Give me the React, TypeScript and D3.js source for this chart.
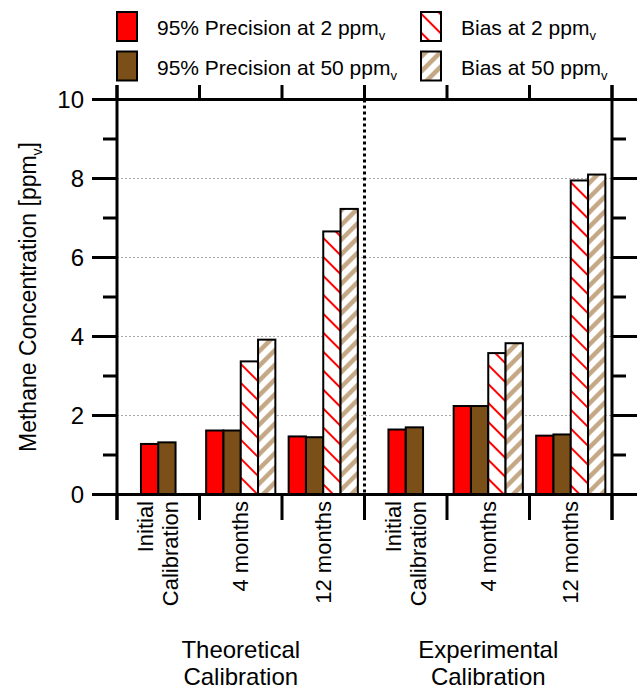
import React from "react";
import * as d3 from "d3";

const categories: string[][] = [
  ["Initial", "Calibration"],
  ["4 months"],
  ["12 months"],
  ["Initial", "Calibration"],
  ["4 months"],
  ["12 months"],
];
const precision2: (number | null)[] = [1.28, 1.62, 1.47, 1.645, 2.24, 1.49];
const precision50: (number | null)[] = [1.32, 1.62, 1.45, 1.7, 2.24, 1.52];
const bias2: (number | null)[] = [null, 3.37, 6.66, null, 3.58, 7.95];
const bias50: (number | null)[] = [null, 3.92, 7.23, null, 3.83, 8.1];
const groups = [
  { label: ["Theoretical", "Calibration"], center: 1 },
  { label: ["Experimental", "Calibration"], center: 4 },
];
const yMajor = [0, 2, 4, 6, 8, 10];
const yMinor = [1, 3, 5, 7, 9];
const gridVals = [2, 4, 6, 8];

const seriesNames = ["p2", "p50", "b2", "b50"];
const seriesData = [precision2, precision50, bias2, bias50];
const seriesFill = ["#ff0000", "#7b5018", "url(#hatchRed)", "url(#hatchTan)"];
const legendItems = [
  { text: "95% Precision at 2 ppm", fill: "#ff0000", col: 0, row: 0 },
  { text: "95% Precision at 50 ppm", fill: "#7b5018", col: 0, row: 1 },
  { text: "Bias at 2 ppm", fill: "url(#hatchRed)", col: 1, row: 0 },
  { text: "Bias at 50 ppm", fill: "url(#hatchTan)", col: 1, row: 1 },
];

const W = 638;
const H = 689;
const left = 117;
const right = 612;
const top = 99.5;
const bottom = 494.5;
const FONT = "Liberation Sans, Arial, Helvetica, sans-serif";

export default function App() {
  const x = d3
    .scaleBand<number>()
    .domain(d3.range(categories.length))
    .range([left, right])
    .padding(0);
  const y = d3.scaleLinear().domain([0, 10]).range([bottom, top]);
  const bw = x.bandwidth();
  const barW = 17.3;
  const boundaries = d3.range(categories.length + 1).map((i) => left + i * bw);

  const bars: React.ReactNode[] = [];
  categories.forEach((_, ci) => {
    const present = seriesNames
      .map((s, si) => ({ s, si, v: seriesData[si][ci] }))
      .filter((d) => d.v !== null);
    const inner = d3
      .scaleBand<string>()
      .domain(present.map((d) => d.s))
      .range([0, present.length * barW]);
    const off = (x(ci) as number) + (bw - present.length * barW) / 2;
    present.forEach((d) => {
      const v = d.v as number;
      bars.push(
        <rect
          key={`${ci}-${d.s}`}
          x={off + (inner(d.s) as number)}
          y={y(v)}
          width={inner.bandwidth()}
          height={y(0) - y(v)}
          fill={seriesFill[d.si]}
          stroke="#000"
          strokeWidth={2}
        />
      );
    });
  });

  return (
    <svg
      width={W}
      height={H}
      style={{ position: "absolute", left: 0, top: 0, background: "#fff" }}
      fontFamily={FONT}
    >
      <defs>
        <pattern
          id="hatchRed"
          patternUnits="userSpaceOnUse"
          width={13.4}
          height={13.4}
          patternTransform="rotate(-45)"
        >
          <rect width={13.4} height={13.4} fill="#fff" />
          <line x1={6.7} y1={0} x2={6.7} y2={13.4} stroke="#ff0000" strokeWidth={2} />
        </pattern>
        <pattern
          id="hatchTan"
          patternUnits="userSpaceOnUse"
          width={10.4}
          height={10.4}
          patternTransform="rotate(45)"
        >
          <rect width={10.4} height={10.4} fill="#fff" />
          <line x1={5.2} y1={0} x2={5.2} y2={10.4} stroke="#c4a784" strokeWidth={4.5} />
        </pattern>
      </defs>

      {/* gridlines */}
      {gridVals.map((v) => (
        <line
          key={`g${v}`}
          x1={left}
          x2={right}
          y1={y(v)}
          y2={y(v)}
          stroke="#aaa"
          strokeWidth={1}
          strokeDasharray="2,2"
        />
      ))}

      {bars}

      {/* separator */}
      <line
        x1={boundaries[3]}
        x2={boundaries[3]}
        y1={top}
        y2={bottom}
        stroke="#000"
        strokeWidth={3}
        strokeDasharray="3,3"
      />

      {/* axes frame */}
      <line x1={left} x2={left} y1={85} y2={520} stroke="#000" strokeWidth={3} />
      <line x1={right} x2={right} y1={85} y2={520} stroke="#000" strokeWidth={3} />
      <line x1={left - 25} x2={right + 25} y1={top} y2={top} stroke="#000" strokeWidth={3} />
      <line x1={left - 25} x2={right + 25} y1={bottom} y2={bottom} stroke="#000" strokeWidth={3} />

      {/* top & bottom ticks */}
      {boundaries.map((bx, i) => (
        <g key={`bt${i}`}>
          <line x1={bx} x2={bx} y1={top} y2={85} stroke="#000" strokeWidth={3} />
          <line x1={bx} x2={bx} y1={bottom} y2={520} stroke="#000" strokeWidth={3} />
        </g>
      ))}

      {/* y ticks */}
      {yMajor.map((v) => (
        <g key={`ym${v}`}>
          <line x1={left - 25} x2={left} y1={y(v)} y2={y(v)} stroke="#000" strokeWidth={3} />
          <line x1={right} x2={right + 25} y1={y(v)} y2={y(v)} stroke="#000" strokeWidth={3} />
          <text
            x={84}
            y={y(v)}
            dy="0.36em"
            textAnchor="end"
            fontSize={24}
            fill="#000"
          >
            {v}
          </text>
        </g>
      ))}
      {yMinor.map((v) => (
        <g key={`yn${v}`}>
          <line x1={left - 14} x2={left} y1={y(v)} y2={y(v)} stroke="#000" strokeWidth={3} />
          <line x1={right} x2={right + 14} y1={y(v)} y2={y(v)} stroke="#000" strokeWidth={3} />
        </g>
      ))}

      {/* y title */}
      <text
        transform={`translate(36, ${(top + bottom) / 2}) rotate(-90)`}
        textAnchor="middle"
        fontSize={23}
        fill="#000"
      >
        Methane Concentration [ppm
        <tspan fontSize={14} dy={6}>v</tspan>
        <tspan dy={-6}>]</tspan>
      </text>

      {/* category labels */}
      {categories.map((lines, ci) => {
        const cx = (x(ci) as number) + bw / 2;
        return lines.map((ln, li) => (
          <text
            key={`c${ci}-${li}`}
            transform={`translate(${cx + (li - (lines.length - 1) / 2) * 25}, 501) rotate(-90)`}
            dy="0.35em"
            textAnchor="end"
            fontSize={22}
            fill="#000"
          >
            {ln}
          </text>
        ));
      })}

      {/* group labels */}
      {groups.map((g, gi) => {
        const cx = (x(g.center) as number) + bw / 2;
        return g.label.map((ln, li) => (
          <text
            key={`gl${gi}-${li}`}
            x={cx}
            y={658 + li * 27}
            textAnchor="middle"
            fontSize={24}
            fill="#000"
          >
            {ln}
          </text>
        ));
      })}

      {/* legend */}
      {legendItems.map((it, i) => {
        const bx = it.col === 0 ? 117 : 421;
        const by = 12 + it.row * 39.5;
        return (
          <g key={`l${i}`}>
            <rect x={bx} y={by} width={20} height={29} fill={it.fill} stroke="#000" strokeWidth={2} />
            <text x={bx + 40} y={by + 23} fontSize={21} fill="#000">
              {it.text}
              <tspan fontSize={13} dy={5}>v</tspan>
            </text>
          </g>
        );
      })}
    </svg>
  );
}
